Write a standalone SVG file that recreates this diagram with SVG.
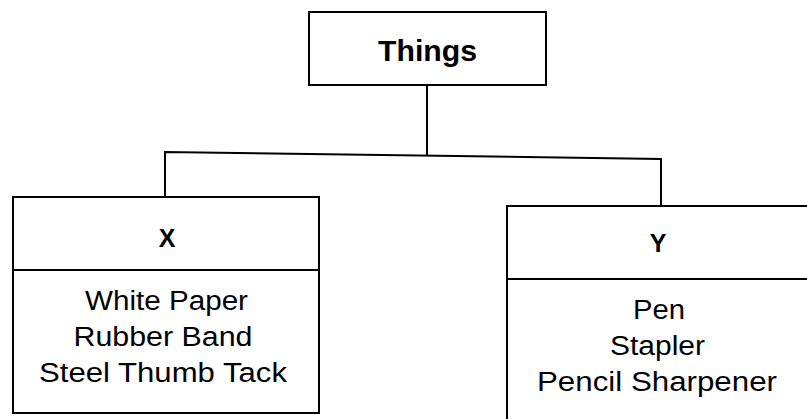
<svg xmlns="http://www.w3.org/2000/svg" width="807" height="419" viewBox="0 0 807 419">
<style>
.box{fill:#fff;stroke:#000;stroke-width:2}
.ln{fill:none;stroke:#000;stroke-width:2}
.h{font-family:"Liberation Sans",Arial,sans-serif;font-weight:bold;fill:#000;text-anchor:middle}
.t{font-family:"Liberation Sans",Arial,sans-serif;font-size:27px;fill:#000;text-anchor:middle}
</style>
<rect width="807" height="419" fill="#fff"/>
<g id="connectors">
<path class="ln" d="M427,85 V155"/>
<path class="ln" d="M165,197 V152 L661,159 V206"/>
</g>
<g id="things">
<rect class="box" x="309" y="12" width="237" height="73"/>
<text class="h" x="427.5" y="61" font-size="30" textLength="99" lengthAdjust="spacingAndGlyphs">Things</text>
</g>
<g id="x">
<rect class="box" x="13" y="197" width="306" height="216"/>
<path class="ln" d="M13,270 H319"/>
<text class="h" x="167" y="247" font-size="25">X</text>
<text class="t" x="166.5" y="310" textLength="163" lengthAdjust="spacingAndGlyphs">White Paper</text>
<text class="t" x="163" y="346" textLength="179" lengthAdjust="spacingAndGlyphs">Rubber Band</text>
<text class="t" x="163" y="382" textLength="248" lengthAdjust="spacingAndGlyphs">Steel Thumb Tack</text>
</g>
<g id="y">
<rect class="box" x="507" y="206" width="306" height="230"/>
<path class="ln" d="M507,279 H813"/>
<text class="h" x="658" y="252" font-size="25">Y</text>
<text class="t" x="659" y="319" textLength="52" lengthAdjust="spacingAndGlyphs">Pen</text>
<text class="t" x="657.5" y="355" textLength="95" lengthAdjust="spacingAndGlyphs">Stapler</text>
<text class="t" x="657" y="391" textLength="240" lengthAdjust="spacingAndGlyphs">Pencil Sharpener</text>
</g>
</svg>
